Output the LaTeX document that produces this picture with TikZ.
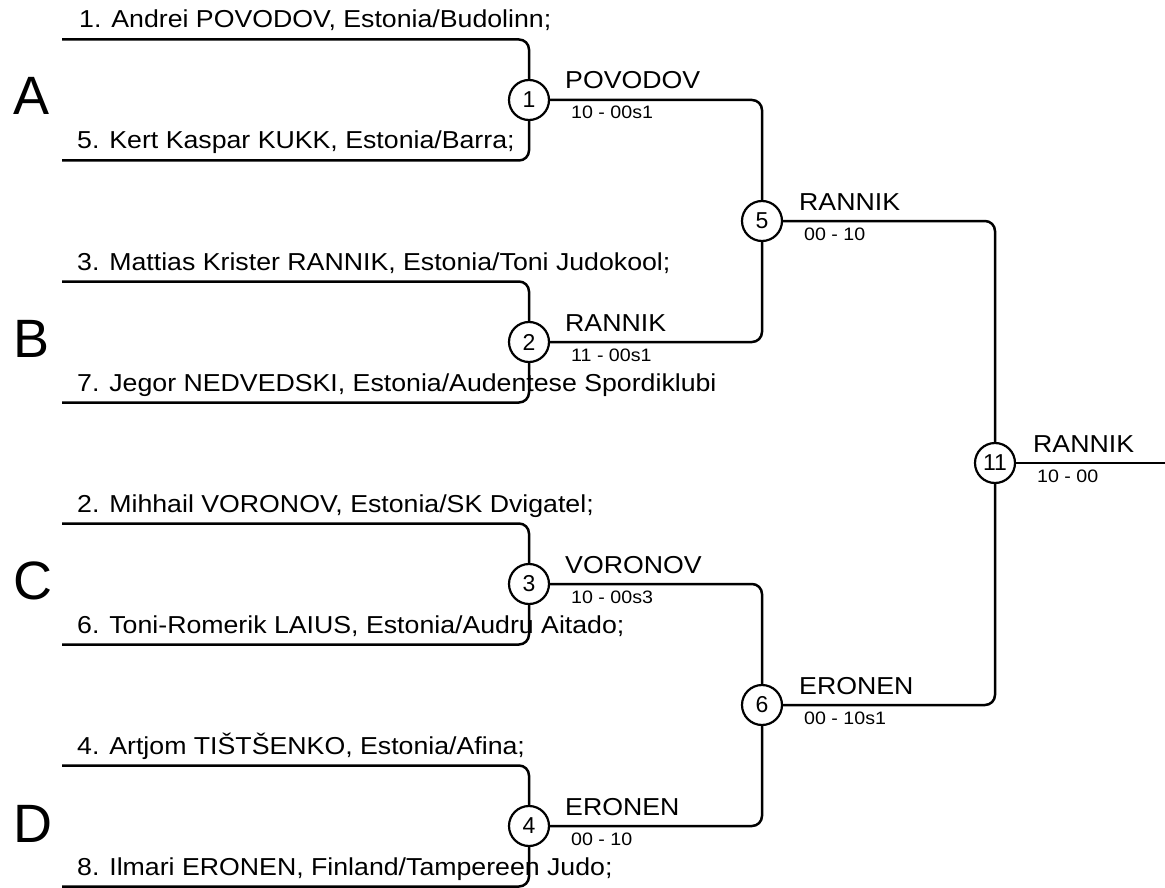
\documentclass[tikz,border=0pt]{standalone}
\usepackage{fontspec}
\setmainfont{Liberation Sans}
\newfontfamily\widesans[FakeStretch=1.09]{Liberation Sans}
\begin{document}
\begin{tikzpicture}[x=1pt,y=-1pt,
  wire/.style={line width=2.5pt,rounded corners=10pt},
  bout/.style={circle,draw,line width=2.2pt,minimum size=40pt,inner sep=0pt,fill=white,font=\fontsize{23}{23}\selectfont},
  player/.style={anchor=base west,inner sep=0pt,font=\widesans\fontsize{24.5}{24}\selectfont},
  winner/.style={anchor=base west,inner sep=0pt,font=\widesans\fontsize{24.5}{24}\selectfont},
  score/.style={anchor=base west,inner sep=0pt,font=\widesans\fontsize{18}{18}\selectfont},
  pool/.style={anchor=base west,inner sep=0pt,font=\fontsize{54}{54}\selectfont}]
\useasboundingbox (0,0) rectangle (1165,888);
% entry lines
\coordinate (p1) at (62,39.5);
\coordinate (p5) at (62,160.5);
\coordinate (p3) at (62,281.5);
\coordinate (p7) at (62,402.5);
\coordinate (p2) at (62,523.5);
\coordinate (p6) at (62,644.5);
\coordinate (p4) at (62,765.5);
\coordinate (p8) at (62,886.5);
\coordinate (fin) at (1165,463);
% bouts
\node[bout] (m1) at (529,100) {1};
\node[bout] (m2) at (529,342) {2};
\node[bout] (m3) at (529,584) {3};
\node[bout] (m4) at (529,826) {4};
\node[bout] (m5) at (762,221) {5};
\node[bout] (m6) at (762,705) {6};
\node[bout] (m11) at (995,463) {11};
% connectors
\draw[wire] (p1) -| (m1); \draw[wire] (p5) -| (m1);
\draw[wire] (p3) -| (m2); \draw[wire] (p7) -| (m2);
\draw[wire] (p2) -| (m3); \draw[wire] (p6) -| (m3);
\draw[wire] (p4) -| (m4); \draw[wire] (p8) -| (m4);
\draw[wire] (m1) -| (m5); \draw[wire] (m2) -| (m5);
\draw[wire] (m3) -| (m6); \draw[wire] (m4) -| (m6);
\draw[wire] (m5) -| (m11); \draw[wire] (m6) -| (m11);
\draw[wire] (m11) -- (fin);
% names
\node[player] (n1) at (79,28) {1. Andrei POVODOV, Estonia/Budolinn;};
\node[player] (n5) at (77,149) {5. Kert Kaspar KUKK, Estonia/Barra;};
\node[player] (n3) at (77,270) {3. Mattias Krister RANNIK, Estonia/Toni Judokool;};
\node[player] (n7) at (77,391) {7. Jegor NEDVEDSKI, Estonia/Audentese Spordiklubi};
\node[player] (n2) at (77,512) {2. Mihhail VORONOV, Estonia/SK Dvigatel;};
\node[player] (n6) at (77,633) {6. Toni-Romerik LAIUS, Estonia/Audru Aitado;};
\node[player] (n4) at (77,754) {4. Artjom TIŠTŠENKO, Estonia/Afina;};
\node[player] (n8) at (77,875) {8. Ilmari ERONEN, Finland/Tampereen Judo;};
% pools
\node[pool] (pa) at (13,115) {A};
\node[pool] (pb) at (13,357) {B};
\node[pool] (pc) at (13,599) {C};
\node[pool] (pd) at (13,842) {D};
% winners and scores
\node[winner] (w1) at (565,89) {POVODOV};
\node[score] (s1) at (571,119) {10 - 00s1};
\node[winner] (w2) at (565,331) {RANNIK};
\node[score] (s2) at (571,361) {11 - 00s1};
\node[winner] (w3) at (565,573) {VORONOV};
\node[score] (s3) at (571,603) {10 - 00s3};
\node[winner] (w4) at (565,815) {ERONEN};
\node[score] (s4) at (571,845) {00 - 10};
\node[winner] (w5) at (799,210) {RANNIK};
\node[score] (s5) at (804,240) {00 - 10};
\node[winner] (w6) at (799,694) {ERONEN};
\node[score] (s6) at (804,724) {00 - 10s1};
\node[winner] (w11) at (1033,452) {RANNIK};
\node[score] (s11) at (1037,482) {10 - 00};
\end{tikzpicture}
\end{document}
